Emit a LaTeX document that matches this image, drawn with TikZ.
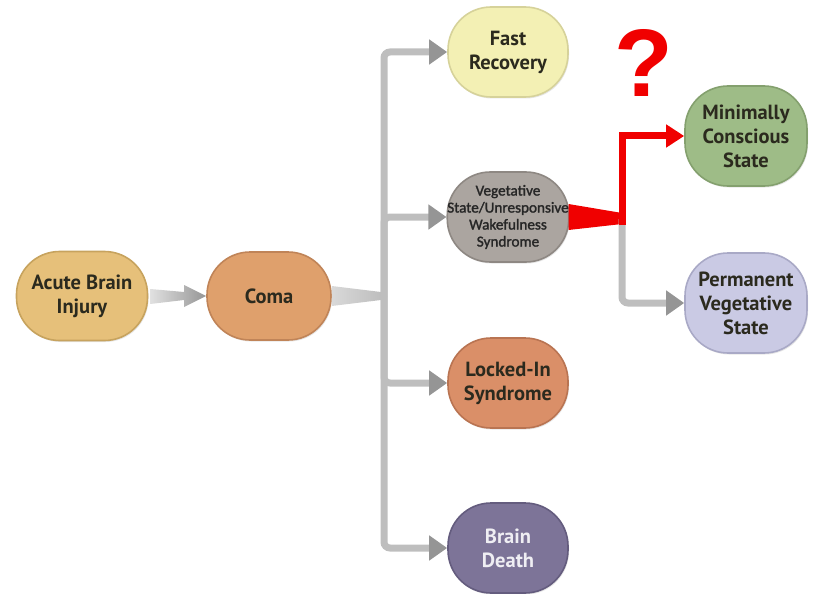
\documentclass[tikz,border=0pt]{standalone}
\usepackage{fontspec}
\setmainfont{PT Sans}
\newfontfamily\smallfont{Carlito}[FakeBold=1.6]
\newfontfamily\qfont{Liberation Sans}
\usetikzlibrary{arrows.meta,shadows,calc}

\definecolor{acutefill}{HTML}{E6C07A}
\definecolor{acutedraw}{HTML}{C7A35E}
\definecolor{comafill}{HTML}{DFA06C}
\definecolor{comadraw}{HTML}{C08458}
\definecolor{fastfill}{HTML}{F3F0B4}
\definecolor{fastdraw}{HTML}{D6D29A}
\definecolor{vegfill}{HTML}{ABA5A0}
\definecolor{vegdraw}{HTML}{8E8883}
\definecolor{lockfill}{HTML}{DA8F68}
\definecolor{lockdraw}{HTML}{B97452}
\definecolor{deathfill}{HTML}{7D7498}
\definecolor{deathdraw}{HTML}{645C7E}
\definecolor{mcsfill}{HTML}{9EBC87}
\definecolor{mcsdraw}{HTML}{84A06E}
\definecolor{pvsfill}{HTML}{CACAE4}
\definecolor{pvsdraw}{HTML}{A9A9C6}
\definecolor{txt}{HTML}{2B2A1E}
\definecolor{linegray}{HTML}{BEBEBE}
\definecolor{tipgray}{HTML}{959595}
\definecolor{alarm}{HTML}{F00000}

\tikzset{
  state/.style={rounded corners=43pt, line width=1.6pt, minimum width=120pt,
    minimum height=90pt, inner sep=0pt, align=center, text=txt,
    font=\bfseries\fontsize{20.5}{24}\selectfont,
    drop shadow={opacity=0.2, shadow xshift=1pt, shadow yshift=-1.5pt}},
  branch/.style={draw=linegray, line width=7pt, rounded corners=6pt,
    -{Triangle[length=18pt,width=24pt,color=tipgray]}},
  redbranch/.style={draw=alarm, line width=7pt,
    -{Triangle[length=18pt,width=22pt,color=alarm]}},
}

\begin{document}
\begin{tikzpicture}[x=1pt,y=-1pt]
\useasboundingbox (0,0) rectangle (823,594);

% states
\node[state, fill=acutefill, draw=acutedraw, minimum width=131pt, minimum height=89pt] (acute) at (82,296) {Acute Brain\\Injury};
\node[state, fill=comafill, draw=comadraw, minimum width=124pt, minimum height=88pt] (coma) at (269,296) {Coma};
\node[state, fill=fastfill, draw=fastdraw] (fast) at (508,52) {Fast\\Recovery};
\node[state, fill=vegfill, draw=vegdraw, text=black!85, font=\smallfont\fontsize{15.2}{17}\selectfont] (veg) at (508,217) {Vegetative\\State/Unresponsive\\Wakefulness\\Syndrome};
\node[state, fill=lockfill, draw=lockdraw] (lock) at (508,383) {Locked-In\\Syndrome};
\node[state, fill=deathfill, draw=deathdraw, text=white!88!deathfill] (death) at (508,548) {Brain\\Death};
\node[state, fill=mcsfill, draw=mcsdraw, minimum width=122pt, minimum height=100pt] (mcs) at (746,136) {Minimally\\Conscious\\State};
\node[state, fill=pvsfill, draw=pvsdraw, minimum width=122pt, minimum height=100pt] (pvs) at (746,303) {Permanent\\Vegetative\\State};

\node[text=alarm, font=\qfont\bfseries\fontsize{96}{96}\selectfont, inner sep=0pt] (q) at (644,63) {?};

% junction points
\coordinate (trunk) at (384,296);
\coordinate (split) at (622,219);

% acute -> coma tapered arrow
\shade[left color=white!88!black, right color=tipgray]
  ($(acute.east)+(2,-7)$) -- (184,292) -- (184,285) -- (coma.west) -- (184,307) -- (184,300) -- ($(acute.east)+(2,8)$) -- cycle;

% coma -> trunk tapered band
\shade[left color=white!85!black, right color=linegray]
  ($(coma.east)+(0,-10)$) -- (381,292) -- (381,300) -- ($(coma.east)+(0,10)$) -- cycle;

% trunk and branches
\draw[branch] (trunk) |- (fast.west);
\draw[branch] (trunk) |- (veg.west);
\draw[branch] (trunk) |- (lock.west);
\draw[branch] (trunk) |- (death.west);

% vegetative -> split, red tapered band
\fill[alarm] ($(veg.east)+(-1,-13)$) -- (622,213) -- (622,224) -- ($(veg.east)+(-1,13)$) -- cycle;
\draw[branch] (split) |- (pvs.west);
\draw[redbranch] ($(split)+(0,6)$) |- (mcs.west);
\end{tikzpicture}
\end{document}
